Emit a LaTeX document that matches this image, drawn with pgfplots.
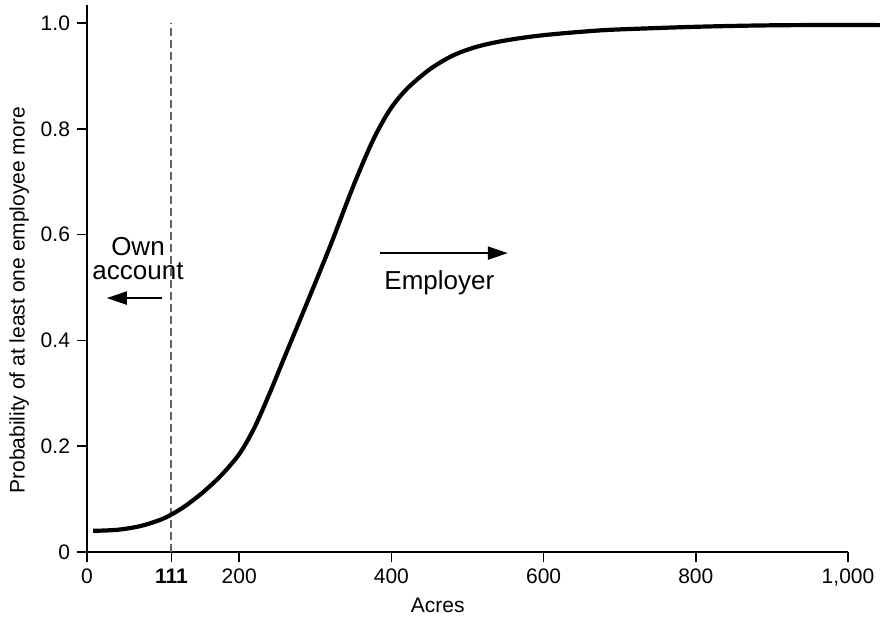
\documentclass[border=0pt]{standalone}
\usepackage{fontspec}
\setmainfont{Liberation Sans}
\usepackage{pgfplots}
\pgfplotsset{compat=1.18}
\usetikzlibrary{arrows.meta}
\begin{document}
\begin{tikzpicture}[font=\fontsize{10.5}{12.6}\selectfont]
\useasboundingbox (-43.5pt,-33pt) rectangle (397pt,276pt);
\begin{axis}[
  at={(0,0)}, anchor=south west,
  scale only axis, width=380.5pt, height=273.5pt,
  xmin=0, xmax=1000, ymin=0, ymax=1.034,
  axis x line=bottom, axis y line=left,
  axis line style={line width=0.75pt, -},
  tick align=outside, major tick length=5pt,
  tick style={line width=0.75pt, black},
  xtick={0,111,200,400,600,800,1000},
  xticklabels={0,\textbf{111},200,400,600,800,{1,000}},
  ytick={0,0.2,0.4,0.6,0.8,1},
  yticklabels={0,0.2,0.4,0.6,0.8,1.0},
  /pgf/number format/assume math mode=true,
  clip=false,
  xlabel={Acres},
  ylabel={Probability of at least one employee more},
  x label style={at={(axis description cs:0.461,-0.097)}, anchor=center},
  y label style={at={(axis description cs:-0.089,0.46)}, anchor=center, rotate=0},
]
\addplot[black!60, line width=1pt, dash pattern=on 4pt off 2pt] coordinates {(111,0) (111,1)};
\addplot[black, line width=2.1pt, smooth] coordinates {
(8,0.040) (40,0.042) (70,0.049) (100,0.063) (125,0.083) (150,0.110) (175,0.143)
(200,0.185) (220,0.235) (240,0.300) (260,0.370) (290,0.474) (320,0.580) (350,0.692)
(376,0.779) (398,0.836) (420,0.875) (450,0.912) (480,0.938) (512,0.955) (550,0.967)
(600,0.977) (674,0.986) (740,0.990) (805,0.993) (870,0.995) (936,0.996) (1042,0.996)
};
\draw[-{Triangle[length=10pt,width=6.5pt]}, line width=1pt] (axis cs:99,0.480) -- (axis cs:26,0.480);
\draw[-{Triangle[length=10pt,width=6.5pt]}, line width=1pt] (axis cs:385,0.565) -- (axis cs:553,0.565);
\begin{scope}[font=\fontsize{13}{15.6}\selectfont]
\node at (axis cs:67,0.577) {Own};
\node at (axis cs:67,0.531) {account};
\node at (axis cs:463,0.509) {Employer};
\end{scope}
\end{axis}
\end{tikzpicture}
\end{document}
